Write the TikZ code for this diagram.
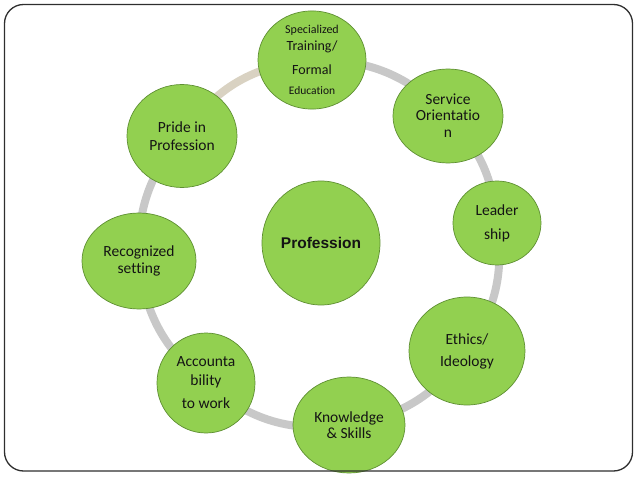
\documentclass[tikz,border=0pt]{standalone}
\usepackage{fontspec}
\setmainfont{Carlito}[Ligatures=NoCommon]
\newfontfamily\headfont{Liberation Sans}
\usetikzlibrary{shapes.geometric,backgrounds}
\definecolor{pfFill}{HTML}{92D050}
\definecolor{pfBorder}{HTML}{5E8F32}
\definecolor{pfText}{HTML}{141414}
\definecolor{pfRing}{HTML}{C8C8C8}
\definecolor{pfRingTan}{HTML}{D9D2C2}
\definecolor{pfFrame}{HTML}{2E2E2E}

\begin{document}
\begin{tikzpicture}[x=1pt,y=-1pt,
    bubble/.style={ellipse, draw=pfBorder, line width=0.7pt, fill=pfFill, text=pfText,
      align=center, inner sep=0pt, font=\fontsize{15.5}{16}\selectfont},
    ring/.style={line width=8pt, draw=pfRing}]
    \useasboundingbox (0,0) rectangle (638,479);

    % Centre
    \node[bubble, minimum width=118pt, minimum height=124pt] at (321,243) (prof) {\headfont\bfseries Profession};

    % Nodes round the ring
    \node[bubble, minimum width=108pt, minimum height=98pt, font=\fontsize{12}{16}\selectfont] at (312,60) (spec)
      {Specialized\\[1pt]{\fontsize{14}{14}\selectfont Training/}\\[8pt]{\fontsize{14}{14}\selectfont Formal}\\[4pt]{\fontsize{11.5}{12}\selectfont Education}};
    \node[bubble, minimum width=110pt, minimum height=94pt] at (448,116) (serv) {Service\\Orientatio\\[1pt]n};
    \node[bubble, minimum width=88pt, minimum height=84pt] at (497,223) (lead) {Leader\\[8pt]ship};
    \node[bubble, minimum width=116pt, minimum height=108pt] at (467,351) (eth) {Ethics/\\[6pt]Ideology};
    \node[bubble, minimum width=112pt, minimum height=96pt] at (349,425) (know) {Knowledge\\\& Skills};
    \node[bubble, minimum width=98pt, minimum height=100pt] at (206,383) (acc) {Accounta\\[3pt]bility\\[7pt]to work};
    \node[bubble, minimum width=114pt, minimum height=96pt] at (139,261) (rec) {Recognized\\[1pt]setting};
    \node[bubble, minimum width=110pt, minimum height=103pt] at (182,136) (pride) {Pride in\\[2pt]Profession};

    % Ring behind the nodes
    \begin{scope}[on background layer]
      \draw[ring] (spec.center) to[bend left=23] (serv.center);
      \draw[ring] (serv.center) to[bend left=19] (lead.center);
      \draw[ring] (lead.center) to[bend left=21] (eth.center);
      \draw[ring] (eth.center) to[bend left=22] (know.center);
      \draw[ring] (know.center) to[bend left=24] (acc.center);
      \draw[ring] (acc.center) to[bend left=22] (rec.center);
      \draw[ring] (rec.center) to[bend left=21] (pride.center);
      \draw[ring, draw=pfRingTan] (pride.center) to[bend left=25] (spec.center);
    \end{scope}

    % Slide frame
    \draw[pfFrame, line width=1.3pt, rounded corners=19pt] (4.5,4.5) rectangle (632.5,471);
\end{tikzpicture}
\end{document}
